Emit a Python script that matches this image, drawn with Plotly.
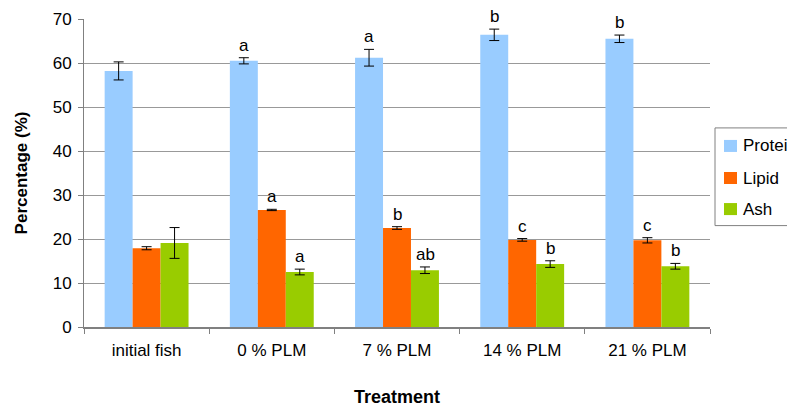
import plotly.graph_objects as go

categories = ["initial fish", "0 % PLM", "7 % PLM", "14 % PLM", "21 % PLM"]
protein = [58.2, 60.5, 61.2, 66.4, 65.5]
protein_err = [2.05, 0.7, 1.9, 1.3, 0.85]
lipid = [17.9, 26.6, 22.5, 19.8, 19.7]
lipid_err = [0.35, 0.15, 0.3, 0.3, 0.6]
ash = [19.1, 12.5, 12.9, 14.3, 13.8]
ash_err = [3.5, 0.65, 0.75, 0.75, 0.65]
protein_letters = ["", "a", "a", "b", "b"]
lipid_letters = ["", "a", "b", "c", "c"]
ash_letters = ["", "a", "ab", "b", "b"]

FONT = "Liberation Sans, Arial, sans-serif"
series = [
    ("Protein", protein, protein_err, protein_letters, "#99CCFF"),
    ("Lipid", lipid, lipid_err, lipid_letters, "#FF6600"),
    ("Ash", ash, ash_err, ash_letters, "#99CC00"),
]

fig = go.Figure()
for i, (name, vals, errs, letters, color) in enumerate(series):
    fig.add_trace(go.Bar(
        name=name, x=categories, y=vals, marker_color=color, marker_line_width=0,
        error_y=dict(type="data", array=errs, visible=True, color="black", thickness=1, width=5),
        showlegend=False,
    ))

offsets = [-28, 0, 28]
annotations = []
for i, (name, vals, errs, letters, color) in enumerate(series):
    for c, v, e, t in zip(categories, vals, errs, letters):
        if t:
            annotations.append(dict(
                x=c, y=v + e, xref="x", yref="y", text=t, showarrow=False,
                xshift=offsets[i], yanchor="bottom", yshift=1,
                font=dict(family=FONT, size=17, color="black"),
            ))

# legend box drawn in paper coordinates (page pixel -> paper)
PX0, PX1 = 84.0, 710.0
PY0, PY1 = 326.7, 19.3
def px(x):
    return (x - PX0) / (PX1 - PX0)
def py(y):
    return (PY0 - y) / (PY0 - PY1)

shapes = [dict(type="rect", xref="paper", yref="paper",
               x0=px(715), x1=px(805), y0=py(128), y1=py(225.5),
               line=dict(color="#808080", width=1), fillcolor="white", layer="above")]
legend_centers = [146, 178, 209]
for (name, vals, errs, letters, color), cy in zip(series, legend_centers):
    shapes.append(dict(type="rect", xref="paper", yref="paper",
                       x0=px(724), x1=px(737), y0=py(cy - 6), y1=py(cy + 6),
                       line=dict(width=0), fillcolor=color, layer="above"))
    annotations.append(dict(x=px(741), y=py(cy), xref="paper", yref="paper",
                            text=name, showarrow=False, xanchor="left", yanchor="middle",
                            font=dict(family=FONT, size=17, color="black")))

fig.update_layout(
    width=795, height=405,
    margin=dict(l=76, r=93, t=11, b=86, autoexpand=False),
    paper_bgcolor="white", plot_bgcolor="white",
    barmode="group", bargap=0.33, bargroupgap=0,
    font=dict(family=FONT, size=17, color="black"),
    showlegend=False,
    annotations=annotations,
    shapes=shapes,
)
fig.update_xaxes(
    showline=True, linecolor="#808080", linewidth=2,
    ticks="outside", tickson="boundaries", ticklen=5, tickcolor="#808080",
    tickfont=dict(family=FONT, size=17), showgrid=False, ticklabelstandoff=7,
    title=dict(text="<b>Treatment</b>", font=dict(family=FONT, size=18), standoff=31),
)
fig.update_yaxes(
    range=[0, 70], dtick=10, showline=True, linecolor="#808080", linewidth=1,
    ticks="outside", ticklen=5, tickcolor="#808080",
    showgrid=True, gridcolor="#999999", gridwidth=1, ticklabelstandoff=3,
    tickfont=dict(family=FONT, size=17), zeroline=False,
    title=dict(text="<b>Percentage (%)</b>", font=dict(family=FONT, size=17), standoff=20),
)
fig.write_html("out.html")
